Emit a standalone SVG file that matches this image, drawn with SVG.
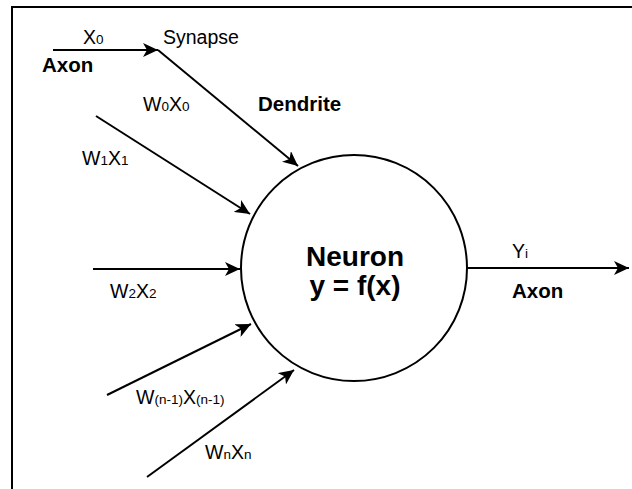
<svg xmlns="http://www.w3.org/2000/svg" width="632" height="489" viewBox="0 0 632 489">
  <style>
    .t { font-family: "Liberation Sans", Arial, sans-serif; font-size: 19.5px; fill: #000; }
    .b { font-family: "Liberation Sans", Arial, sans-serif; font-size: 20.5px; font-weight: bold; fill: #000; }
    .n { font-family: "Liberation Sans", Arial, sans-serif; font-size: 28px; font-weight: bold; fill: #000; }
    .s { font-size: 13.5px; }
    .c { fill: none; stroke: #000; stroke-width: 2; marker-end: url(#arr); }
  </style>
  <defs>
    <marker id="arr" markerUnits="userSpaceOnUse" markerWidth="16" markerHeight="14" refX="15" refY="7" orient="auto">
      <path d="M0,0 L15,7 L0,14 L4,7 Z" fill="#000"/>
    </marker>
  </defs>
  <rect x="0" y="0" width="632" height="489" fill="#fff"/>
  <rect id="frame" x="12" y="7" width="700" height="600" fill="none" stroke="#000" stroke-width="2"/>

  <g id="connectors">
    <line class="c" x1="53" y1="50" x2="158" y2="50"/>
    <line class="c" x1="158" y1="50" x2="298" y2="166"/>
    <line class="c" x1="96" y1="116" x2="250" y2="214"/>
    <line class="c" x1="93" y1="269" x2="240" y2="269"/>
    <line class="c" x1="107" y1="395" x2="251" y2="324"/>
    <line class="c" x1="147" y1="477" x2="294" y2="370"/>
    <line class="c" x1="468" y1="268" x2="629" y2="268"/>
  </g>

  <g id="neuron">
    <circle cx="354" cy="268" r="113" fill="#fff" stroke="#000" stroke-width="2"/>
    <text class="n" x="355" y="266" text-anchor="middle">Neuron</text>
    <text class="n" x="355" y="295" text-anchor="middle">y = f(x)</text>
  </g>

  <g id="labels">
    <text class="t" x="83" y="44">X<tspan class="s">0</tspan></text>
    <text class="t" x="163" y="44">Synapse</text>
    <text class="b" x="42" y="72">Axon</text>
    <text class="t" x="143" y="111">W<tspan class="s">0</tspan>X<tspan class="s">0</tspan></text>
    <text class="b" x="258" y="111">Dendrite</text>
    <text class="t" x="82" y="165">W<tspan class="s">1</tspan>X<tspan class="s">1</tspan></text>
    <text class="t" x="110" y="298">W<tspan class="s">2</tspan>X<tspan class="s">2</tspan></text>
    <text class="t" x="136" y="404">W<tspan class="s">(n-1)</tspan>X<tspan class="s">(n-1)</tspan></text>
    <text class="t" x="205" y="459">W<tspan class="s">n</tspan>X<tspan class="s">n</tspan></text>
    <text class="t" x="512" y="258">Y<tspan class="s">i</tspan></text>
    <text class="b" x="512" y="298">Axon</text>
  </g>
</svg>
